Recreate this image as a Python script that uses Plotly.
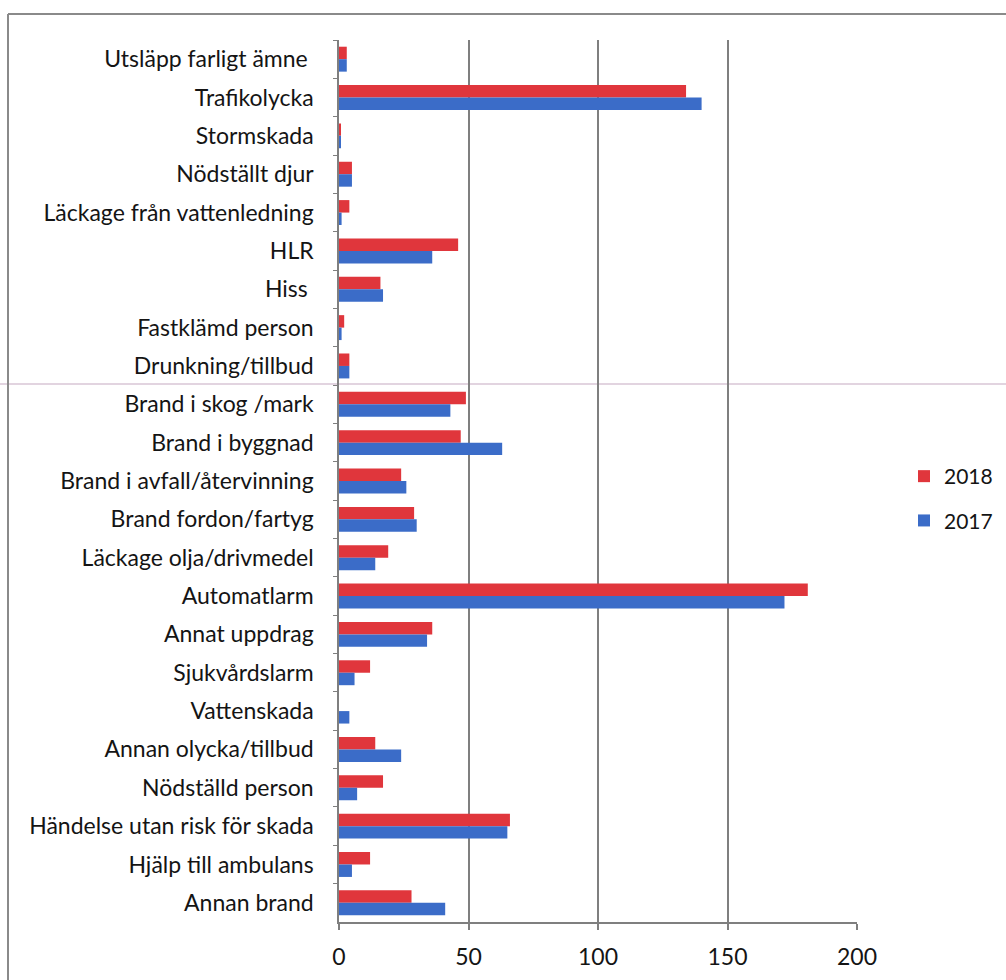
import plotly.graph_objects as go

categories = [
    "Utsläpp farligt ämne ",
    "Trafikolycka",
    "Stormskada",
    "Nödställt djur",
    "Läckage från vattenledning",
    "HLR",
    "Hiss ",
    "Fastklämd person",
    "Drunkning/tillbud",
    "Brand i skog /mark",
    "Brand i byggnad",
    "Brand i avfall/återvinning",
    "Brand fordon/fartyg",
    "Läckage olja/drivmedel",
    "Automatlarm",
    "Annat uppdrag",
    "Sjukvårdslarm",
    "Vattenskada",
    "Annan olycka/tillbud",
    "Nödställd person",
    "Händelse utan risk för skada",
    "Hjälp till ambulans",
    "Annan brand",
]
values_2018 = [3, 134, 0.4, 5, 4, 46, 16, 2, 4, 49, 47, 24, 29, 19, 181, 36, 12, 0, 14, 17, 66, 12, 28]
values_2017 = [3, 140, 0.4, 5, 1, 36, 17, 1, 4, 43, 63, 26, 30, 14, 172, 34, 6, 4, 24, 7, 65, 5, 41]
x_ticks = [0, 50, 100, 150, 200]

RED = "#E0363C"
BLUE = "#3B6CC8"
FONT = "Lato"

fig = go.Figure()
fig.add_trace(go.Bar(y=categories, x=values_2018, name="2018", orientation="h",
                     legendgroup="a", marker=dict(color=RED, line=dict(width=0))))
fig.add_trace(go.Bar(y=categories, x=values_2017, name="2017", orientation="h",
                     legendgroup="b", marker=dict(color=BLUE, line=dict(width=0))))

L, R, T, B = 339, 857, 40, 922
W, H = 1006, 980

def px(x):
    return (x - L) / (R - L)

def py(y):
    return (B - y) / (B - T)

fig.update_layout(
    template="none",
    width=W, height=H, autosize=False,
    margin=dict(l=L, r=W - R, t=T, b=H - B, pad=0, autoexpand=False),
    paper_bgcolor="white", plot_bgcolor="white",
    barmode="group", bargap=0.35, bargroupgap=0,
    font=dict(family=FONT, size=23, color="#141414"),
    showlegend=True,
    legend=dict(x=px(904), y=py(456), xanchor="left", yanchor="top",
                font=dict(size=21, family=FONT), itemwidth=30,
                traceorder="grouped", tracegroupgap=14,
                bgcolor="rgba(0,0,0,0)", borderwidth=0),
    xaxis=dict(range=[0, 200], tickvals=x_ticks, ticktext=[str(v) for v in x_ticks],
               showgrid=True, gridcolor="#7f7f7f", gridwidth=1.5,
               showline=True, linecolor="#7f7f7f", linewidth=1.5,
               ticks="outside", ticklen=6, tickcolor="#7f7f7f", tickwidth=1.5,
               tickfont=dict(size=23, family=FONT), ticklabelstandoff=8,
               zeroline=False, automargin=False),
    yaxis=dict(autorange="reversed", showgrid=False, showline=True,
               linecolor="#7f7f7f", linewidth=1.5, ticks="outside",
               tickson="boundaries", ticklen=4, tickcolor="#7f7f7f", tickwidth=1,
               tickfont=dict(size=23, family=FONT), ticklabelstandoff=19,
               zeroline=False, automargin=False),
)

# scanned page frame and fold line
fig.add_shape(type="line", xref="paper", yref="paper",
              x0=px(8), x1=px(8), y0=py(14), y1=py(990),
              line=dict(color="#8a8a8a", width=2))
fig.add_shape(type="line", xref="paper", yref="paper",
              x0=px(8), x1=px(1010), y0=py(14), y1=py(14),
              line=dict(color="#8a8a8a", width=2))
fig.add_shape(type="line", xref="paper", yref="paper",
              x0=px(0), x1=px(1010), y0=py(384), y1=py(384),
              line=dict(color="#d8c6d6", width=1.5), layer="below")

fig.write_html("out.html", config={"displayModeBar": False},
               post_script="document.body.style.margin='0';")
